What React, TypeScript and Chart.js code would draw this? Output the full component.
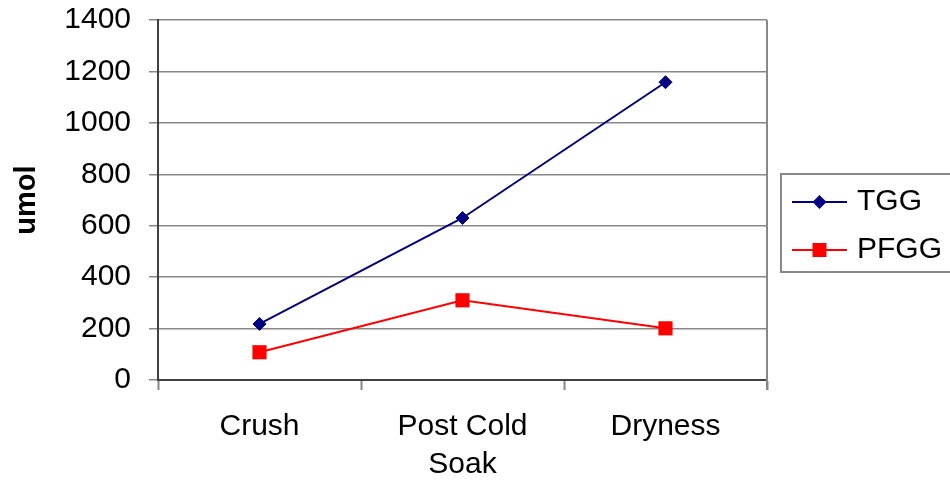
import React, { useEffect, useRef } from "react";
import { Chart, registerables } from "chart.js";

Chart.register(...registerables);

const categories: (string | string[])[] = ["Crush", ["Post Cold", "Soak"], "Dryness"];
const tggValues = [218, 630, 1158];
const pfggValues = [108, 310, 201];
const yTicks = [0, 200, 400, 600, 800, 1000, 1200, 1400];

const FONT = "'Liberation Sans', Arial, sans-serif";
const GRID = "#888888";
const AXIS = "#404040";

// Boxed legend on the right, drawn with a line sample and marker per series
const boxedLegend = {
  id: "boxedLegend",
  afterDraw(chart: Chart) {
    const { ctx, chartArea } = chart;
    const left = chartArea.right + 14;
    const top = 174;
    const bottom = 272;
    ctx.save();
    ctx.strokeStyle = GRID;
    ctx.lineWidth = 2;
    ctx.beginPath();
    ctx.moveTo(chart.width + 2, top);
    ctx.lineTo(left, top);
    ctx.lineTo(left, bottom);
    ctx.lineTo(chart.width + 2, bottom);
    ctx.stroke();

    chart.data.datasets.forEach((ds: any, i: number) => {
      const y = 202 + i * 48;
      const x0 = left + 11;
      const x1 = left + 66;
      const cx = (x0 + x1) / 2;
      ctx.strokeStyle = ds.borderColor;
      ctx.lineWidth = 2;
      ctx.beginPath();
      ctx.moveTo(x0, y);
      ctx.lineTo(x1, y);
      ctx.stroke();
      ctx.fillStyle = ds.pointBackgroundColor;
      ctx.beginPath();
      if (ds.pointStyle === "rectRot") {
        const r = 7;
        ctx.moveTo(cx, y - r);
        ctx.lineTo(cx + r, y);
        ctx.lineTo(cx, y + r);
        ctx.lineTo(cx - r, y);
        ctx.closePath();
      } else {
        ctx.rect(cx - 7, y - 7, 14, 14);
      }
      ctx.fill();
      ctx.fillStyle = "#000000";
      ctx.font = `30px ${FONT}`;
      ctx.textAlign = "left";
      ctx.textBaseline = "alphabetic";
      ctx.fillText(ds.label, left + 76, y + 8);
    });
    ctx.restore();
  },
};

// Right-hand border of the plot area, extended down as the last category tick
const plotBorder = {
  id: "plotBorder",
  beforeDatasetsDraw(chart: Chart) {
    const { ctx, chartArea } = chart;
    ctx.save();
    ctx.strokeStyle = GRID;
    ctx.lineWidth = 2;
    ctx.beginPath();
    ctx.moveTo(chartArea.right, chartArea.top);
    ctx.lineTo(chartArea.right, chartArea.bottom + 10);
    ctx.stroke();
    ctx.restore();
  },
};

export default function App() {
  const canvasRef = useRef<HTMLCanvasElement | null>(null);

  useEffect(() => {
    document.body.style.margin = "0";
    const canvas = canvasRef.current;
    if (!canvas) return;
    const chart = new Chart(canvas, {
      type: "line",
      data: {
        labels: categories,
        datasets: [
          {
            label: "TGG",
            data: tggValues,
            borderColor: "#000080",
            backgroundColor: "#000080",
            pointBackgroundColor: "#000080",
            pointBorderColor: "#000080",
            pointStyle: "rectRot",
            pointRadius: 6.5,
            pointBorderWidth: 1,
            borderWidth: 2,
            tension: 0,
          },
          {
            label: "PFGG",
            data: pfggValues,
            borderColor: "#FF0000",
            backgroundColor: "#FF0000",
            pointBackgroundColor: "#FF0000",
            pointBorderColor: "#FF0000",
            pointStyle: "rect",
            pointRadius: 10,
            pointBorderWidth: 0,
            borderWidth: 2,
            tension: 0,
          },
        ],
      },
      options: {
        animation: false,
        responsive: false,
        maintainAspectRatio: false,
        layout: { padding: { top: 20, right: 183, left: 0, bottom: 0 } },
        plugins: {
          legend: { display: false },
          tooltip: { enabled: false },
        },
        scales: {
          x: {
            type: "category",
            offset: true,
            grid: {
              offset: true,
              drawOnChartArea: false,
              drawTicks: true,
              tickLength: 10,
              tickColor: GRID,
              tickWidth: 2,
            },
            border: { color: AXIS, width: 2 },
            ticks: {
              color: "#000000",
              font: { family: FONT, size: 30, lineHeight: 1.25 },
              padding: 18,
              maxRotation: 0,
              autoSkip: false,
            },
            afterFit: (scale: any) => {
              scale.height = 105;
              scale.paddingLeft = 0;
              scale.paddingRight = 0;
            },
          },
          y: {
            min: 0,
            max: 1400,
            afterBuildTicks: (scale: any) => {
              scale.ticks = yTicks.map((v) => ({ value: v }));
            },
            grid: {
              color: GRID,
              lineWidth: 1.5,
              drawTicks: true,
              tickLength: 9,
              tickColor: GRID,
            },
            border: { color: AXIS, width: 2 },
            ticks: {
              color: "#000000",
              font: { family: FONT, size: 30 },
              padding: 18,
              callback: (value: any) => String(value),
            },
            title: {
              display: true,
              text: "umol",
              color: "#000000",
              font: { family: FONT, size: 29, weight: "bold", lineHeight: 1.2 },
              padding: { top: 10, bottom: 0 },
            },
            afterFit: (scale: any) => {
              scale.width = 158;
              scale.paddingTop = 0;
              scale.paddingBottom = 0;
            },
          },
        },
      },
      plugins: [plotBorder, boxedLegend],
    });
    return () => chart.destroy();
  }, []);

  return (
    <div style={{ position: "absolute", left: 0, top: 0, width: 950, height: 485, background: "#ffffff" }}>
      <canvas ref={canvasRef} width={950} height={485} style={{ width: 950, height: 485, display: "block" }} />
    </div>
  );
}
